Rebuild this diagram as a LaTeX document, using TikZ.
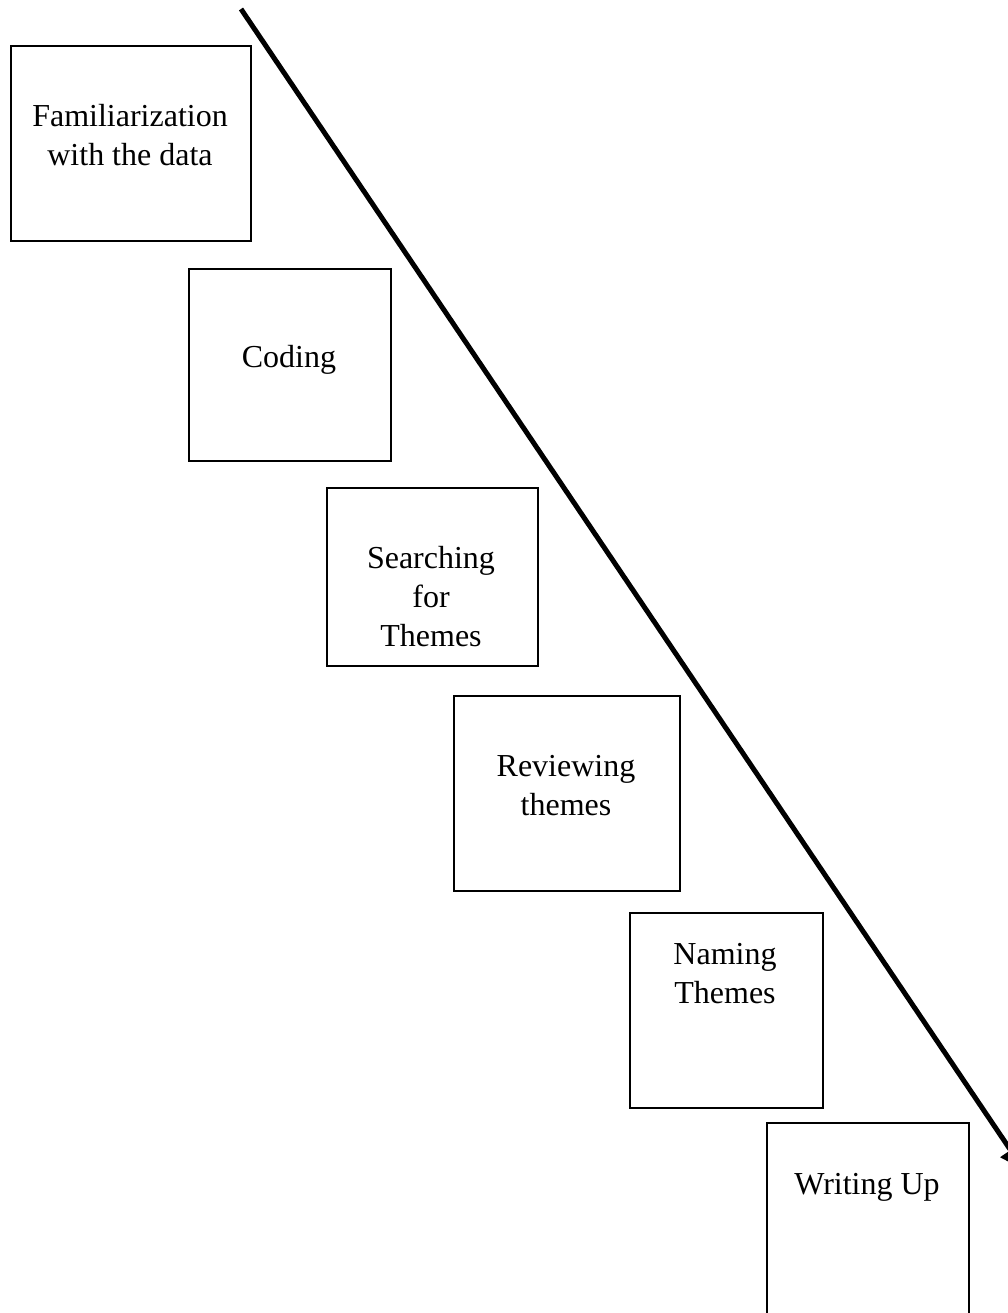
\documentclass[tikz,border=0pt]{standalone}
\usepackage{fontspec}
\setmainfont{Liberation Serif}
\usetikzlibrary{arrows.meta}
\begin{document}
\begin{tikzpicture}[x=1pt,y=-1pt,
  stagebox/.style={draw=black,line width=1.6pt,fill=none},
  stagetext/.style={align=center,font=\fontsize{32}{39}\selectfont,inner sep=0pt},
  flow/.style={line width=5pt,-{Triangle[length=24pt,width=24pt]}}]
\useasboundingbox (0,0) rectangle (1008,1313);
\clip (0,0) rectangle (1008,1313);
% boxes
\node[stagebox,minimum width=240pt,minimum height=195pt,anchor=north west] (b1) at (10,45) {};
\node[stagebox,minimum width=202pt,minimum height=192pt,anchor=north west] (b2) at (188,268) {};
\node[stagebox,minimum width=211pt,minimum height=178pt,anchor=north west] (b3) at (326,487) {};
\node[stagebox,minimum width=226pt,minimum height=195pt,anchor=north west] (b4) at (453,695) {};
\node[stagebox,minimum width=193pt,minimum height=195pt,anchor=north west] (b5) at (629,912) {};
\node[stagebox,minimum width=202pt,minimum height=230pt,anchor=north west] (b6) at (766,1122) {};
% texts
\node[stagetext] (t1) at (130,135) {Familiarization\\with the data};
\node[stagetext] (t2) at (289,360) {Coding};
\node[stagetext] (t3) at (431,597) {Searching\\for\\Themes};
\node[stagetext] (t4) at (566,786) {Reviewing\\themes};
\node[stagetext] (t5) at (725,974) {Naming\\Themes};
\node[stagetext] (t6) at (867,1187) {Writing Up};
% arrow
\coordinate (s) at (241,9);
\coordinate (e) at (1024,1170);
\draw[flow] (s) -- (e);
\end{tikzpicture}
\end{document}
